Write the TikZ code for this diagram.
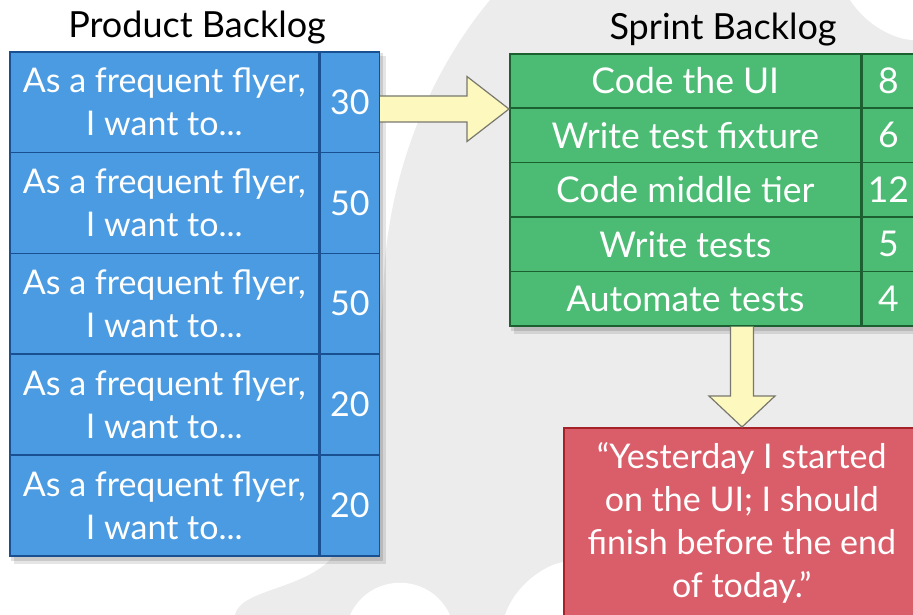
\documentclass[tikz,border=0pt]{standalone}
\usepackage{fontspec}
\setmainfont{Lato}
\usetikzlibrary{calc}
\pgfdeclarelayer{bglayer}
\pgfdeclarelayer{shadlayer}
\pgfsetlayers{bglayer,shadlayer,main}
\definecolor{bluefill}{RGB}{74,155,226}
\definecolor{blueline}{RGB}{25,80,145}
\definecolor{greenfill}{RGB}{76,187,116}
\definecolor{greenline}{RGB}{28,95,48}
\definecolor{redfill}{RGB}{218,94,106}
\definecolor{redline}{RGB}{165,35,40}
\definecolor{arrowfill}{RGB}{252,248,190}
\definecolor{arrowline}{RGB}{120,120,110}
\definecolor{bggray}{RGB}{236,236,236}
\tikzset{
  cell/.style={rectangle, draw, line width=1.6pt, inner sep=0pt, anchor=north west,
    text=white, align=center},
  bluecell/.style={cell, fill=bluefill, draw=blueline, minimum height=100.8pt,
    font=\fontsize{34}{43}\selectfont},
  greencell/.style={cell, fill=greenfill, draw=greenline, minimum height=54.4pt,
    font=\fontsize{35.5}{40}\selectfont},
  redbox/.style={cell, fill=redfill, draw=redline, minimum width=356pt, minimum height=190pt,
    font=\fontsize{34}{43}\selectfont},
  heading/.style={font=\fontsize{36}{40}\selectfont, text=black, inner sep=0pt},
  fatarrow/.style={fill=arrowfill, draw=arrowline, line width=1.2pt, line join=miter}
}
\begin{document}
\begin{tikzpicture}[x=1pt,y=-1pt]
\useasboundingbox (0,0) rectangle (913,615);
\clip (0,0) rectangle (913,615);
% watermark background
\begin{pgfonlayer}{bglayer}
\fill[white] (0,0) rectangle (913,615);
\fill[bggray] (490,0) .. controls (440,60) and (395,150) .. (385,260)
  .. controls (378,380) and (370,500) .. (330,560)
  .. controls (300,590) and (240,590) .. (235,615) -- (913,615) -- (913,0) -- cycle;
\fill[white] (350,615) .. controls (370,572) and (430,572) .. (450,615) -- cycle;
\fill[white] (505,615) .. controls (515,585) and (545,565) .. (563,562) -- (563,615) -- cycle;
\fill[white] (850,0) .. controls (870,30) and (900,40) .. (913,40) -- (913,0) -- cycle;
\end{pgfonlayer}

% headings
\node[heading] (ptitle) at (197,28) {Product Backlog};
\node[heading] (stitle) at (723,30) {Sprint Backlog};

% product backlog
\foreach \i/\n in {1/30,2/50,3/50,4/20,5/20}{
  \node[bluecell, minimum width=309pt] (bl\i) at (9,{51+(\i-1)*100.8}) {As a frequent flyer,\\I want to...};
  \node[bluecell, minimum width=59pt] (bn\i) at (bl\i.north east) {\n};
}
% sprint backlog
\foreach \i/\t/\n in {1/Code the UI/8,2/Write test fixture/6,3/Code middle tier/12,4/Write tests/5,5/Automate tests/4}{
  \node[greencell, minimum width=351pt] (gl\i) at (509,{53+(\i-1)*54.4}) {\t};
  \node[greencell, minimum width=52pt] (gn\i) at (gl\i.north east) {\n};
}
% red box
\node[redbox] (quote) at (563,427) {``Yesterday I started\\on the UI; I should\\finish before the end\\of today.''};

% shadows
\begin{pgfonlayer}{shadlayer}
\fill[black, opacity=0.1] ($(bl1.north west)+(5,5)$) rectangle ($(bn5.south east)+(6,7)$);
\fill[black, opacity=0.12] ($(bl1.north west)+(2,2)$) rectangle ($(bn5.south east)+(3,4)$);
\fill[black, opacity=0.1] ($(gl1.north west)+(5,5)$) rectangle ($(gn5.south east)+(6,7)$);
\fill[black, opacity=0.12] ($(gl1.north west)+(2,2)$) rectangle ($(gn5.south east)+(3,4)$);
\end{pgfonlayer}

% arrow product -> sprint
\coordinate (t1) at (gl1.south west);
\coordinate (s1) at (bn1.east |- t1);
\filldraw[fatarrow] ($(s1)+(0,-13)$) -- ($(t1)+(-42,-13)$) -- ($(t1)+(-42,-32.5)$) -- (t1)
  -- ($(t1)+(-42,32.5)$) -- ($(t1)+(-42,13)$) -- ($(s1)+(0,13)$);
% arrow sprint -> quote
\coordinate (ds) at ($(gl5.south west)+(233,0)$);
\coordinate (dt) at (ds |- quote.north);
\filldraw[fatarrow] ($(ds)+(-11.5,0)$) -- ($(dt)+(-11.5,-31)$) -- ($(dt)+(-33,-31)$) -- (dt)
  -- ($(dt)+(33,-31)$) -- ($(dt)+(11.5,-31)$) -- ($(ds)+(11.5,0)$);
\end{tikzpicture}
\end{document}
